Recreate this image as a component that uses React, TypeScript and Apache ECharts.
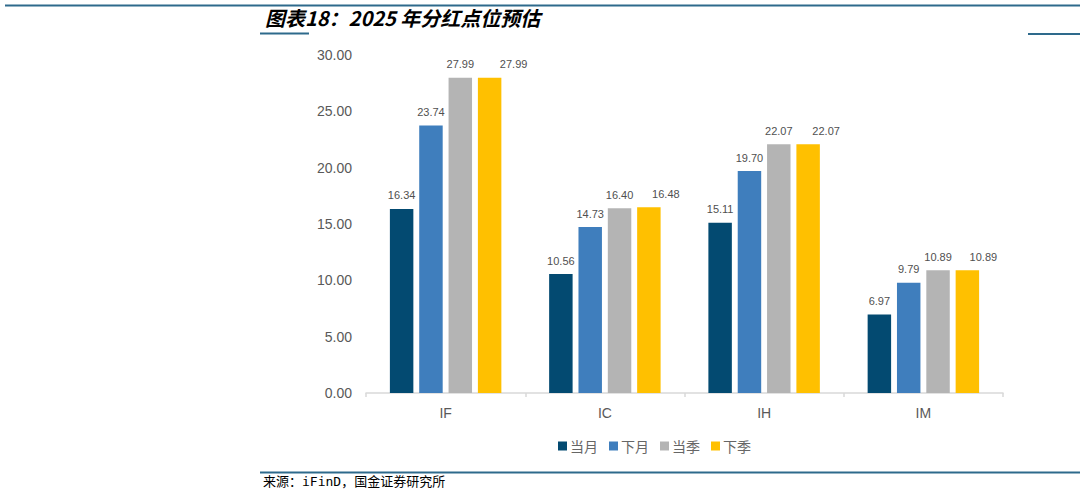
import { useEffect, useRef } from "react";
import * as echarts from "echarts";

// 分红点位预估
const categories = ["IF", "IC", "IH", "IM"];
const dangYue = [16.34, 10.56, 15.11, 6.97];
const xiaYue = [23.74, 14.73, 19.7, 9.79];
const dangJi = [27.99, 16.4, 22.07, 10.89];
const xiaJi = [27.99, 16.48, 22.07, 10.89];
const seriesNames = ["当月", "下月", "当季", "下季"];
const yTicks = [0, 5, 10, 15, 20, 25, 30];

const colors = ["#034A71", "#3F7EBD", "#B4B4B4", "#FFC000"];
const numFont = "'Liberation Sans', Arial, sans-serif";
const cjkFont = "'Noto Sans CJK SC', 'Liberation Sans', sans-serif";
const srcFont = "'DejaVu Sans Mono', 'Noto Sans CJK SC', monospace";
const lineColor = "#2E6A8C";

export default function App(): JSX.Element {
  const chartRef = useRef<HTMLDivElement>(null);

  useEffect(() => {
    const chart = echarts.init(chartRef.current, null, { renderer: "svg" });
    // excel pushes the last label a bit right so it does not hit its neighbour
    const lastShift = [24, 17, 18, 16];
    const seriesData = [dangYue, xiaYue, dangJi, xiaJi];

    const option = {
      animation: false,
      textStyle: { fontFamily: numFont },
      grid: { left: 366, right: 83, top: 55, bottom: 103 },
      legend: {
        data: seriesNames,
        left: 553,
        top: 434,
        itemWidth: 9,
        itemHeight: 9,
        itemGap: 11,
        icon: "rect",
        textStyle: { fontFamily: cjkFont, fontSize: 14, color: "#666666", padding: [0, 0, 0, -2] },
      },
      xAxis: {
        type: "category",
        data: categories,
        axisLine: { lineStyle: { color: "#D9D9D9", width: 1.5 } },
        axisTick: { show: true, length: 4, lineStyle: { color: "#D9D9D9", width: 1.5 } },
        axisLabel: { color: "#595959", fontSize: 14, margin: 13, fontFamily: numFont },
      },
      yAxis: {
        type: "value",
        min: yTicks[0],
        max: yTicks[yTicks.length - 1],
        interval: 5,
        axisLine: { show: false },
        axisTick: { show: false },
        splitLine: { show: false },
        axisLabel: {
          color: "#595959",
          fontSize: 14,
          margin: 14,
          fontFamily: numFont,
          formatter: (v: number) => v.toFixed(2),
        },
      },
      series: seriesData.map((vals, si) => ({
        name: seriesNames[si],
        type: "bar",
        barGap: "25%",
        barCategoryGap: "30%",
        itemStyle: { color: colors[si] },
        label: {
          show: true,
          position: "top",
          distance: 8,
          fontSize: 11,
          color: "#505050",
          textBorderWidth: 0,
          fontFamily: numFont,
          formatter: (p: { value: number }) => p.value.toFixed(2),
        },
        data: vals.map((v, i) =>
          si === 3 ? { value: v, label: { offset: [lastShift[i], 0] } } : v
        ),
      })),
      graphic: [
        { type: "line", shape: { x1: 5, y1: 5.5, x2: 1080, y2: 5.5 }, style: { stroke: lineColor, lineWidth: 2 } },
        { type: "line", shape: { x1: 260, y1: 33.5, x2: 309, y2: 33.5 }, style: { stroke: lineColor, lineWidth: 2 } },
        { type: "line", shape: { x1: 1028, y1: 34, x2: 1080, y2: 34 }, style: { stroke: lineColor, lineWidth: 2 } },
        { type: "line", shape: { x1: 260, y1: 472.5, x2: 1080, y2: 472.5 }, style: { stroke: lineColor, lineWidth: 2 } },
        {
          type: "text",
          left: 265,
          top: 7,
          style: {
            text: "图表18：2025 年分红点位预估",
            font: `italic bold 20px ${cjkFont}`,
            fill: "#000000",
          },
        },
        {
          type: "text",
          left: 263,
          top: 475,
          style: {
            text: "来源：iFinD，国金证券研究所",
            font: `13px ${srcFont}`,
            fill: "#000000",
          },
        },
      ],
    };
    chart.setOption(option);
    return () => {
      chart.dispose();
    };
  }, []);

  return (
    <div
      ref={chartRef}
      style={{ position: "fixed", left: 0, top: 0, width: 1086, height: 496, background: "#fff" }}
    ></div>
  );
}
